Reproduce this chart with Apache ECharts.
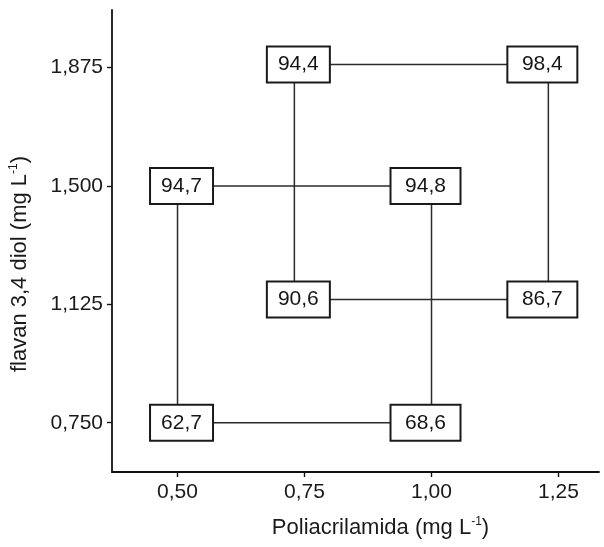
<!DOCTYPE html>
<html>
<head>
<meta charset="utf-8">
<style>
  html, body { margin: 0; padding: 0; background: #ffffff; }
  #chart { width: 604px; height: 547px; }
</style>
<script src="https://cdn.jsdelivr.net/npm/echarts@6/dist/echarts.min.js"></script>
</head>
<body>
<div id="chart"></div>
<script>
// ---- data ----
const xTickValues = [0.5, 0.75, 1.0, 1.25];
const yTickValues = [0.75, 1.125, 1.5, 1.875];
const pointX = [0.5, 1.0, 0.5, 1.0, 0.73, 1.23, 0.73, 1.23];
const pointY = [0.75, 0.75, 1.5, 1.5, 1.14, 1.14, 1.885, 1.885];
const pointValues = [62.7, 68.6, 94.7, 94.8, 90.6, 86.7, 94.4, 98.4];
// pairs of point indices joined by a line
const connections = [[0, 1], [2, 3], [4, 5], [6, 7], [0, 2], [1, 3], [4, 6], [5, 7]];
const xTitle = 'Poliacrilamida (mg L{sup|-1})';
const yTitle = 'flavan 3,4 diol (mg L{sup|-1})';

// ---- chart ----
const FONT = '"Liberation Sans", Arial, sans-serif';
const fmt = (v, d) => v.toFixed(d).replace('.', ',');

const lineSeries = connections.map(([a, b]) => ({
  type: 'line',
  data: [[pointX[a], pointY[a]], [pointX[b], pointY[b]]],
  symbol: 'none',
  lineStyle: { color: '#2b2b2b', width: 1.5 },
  z: 2,
  silent: true
}));

const boxSeries = {
  type: 'scatter',
  z: 5,
  symbol: 'circle',
  symbolSize: 1,
  itemStyle: { color: 'rgba(0,0,0,0)', opacity: 1 },
  data: pointX.map((x, i) => ({
    value: [x, pointY[i], pointValues[i]],
    label: {
      width: x > 0.9 ? 48 : 41,
      offset: x > 0.9 ? [-6, 0] : [4, 0]
    }
  })),
  label: {
    show: true,
    position: 'inside',
    align: 'center',
    verticalAlign: 'middle',
    formatter: p => fmt(p.value[2], 1),
    fontFamily: FONT,
    fontSize: 21,
    lineHeight: 22,
    color: '#151515',
    opacity: 1,
    backgroundColor: '#ffffff',
    borderColor: '#1a1a1a',
    borderWidth: 2,
    padding: [6, 10, 6, 10]
  },
  emphasis: { disabled: true }
};

const chart = echarts.init(document.getElementById('chart'), null, { renderer: 'canvas' });
chart.setOption({
  backgroundColor: '#ffffff',
  animation: false,
  grid: { left: 112, right: 5, top: 10, bottom: 75, containLabel: false },
  xAxis: {
    type: 'value',
    min: 0.371,
    max: 1.3297,
    splitLine: { show: false },
    axisLine: { show: true, onZero: false, lineStyle: { color: '#111', width: 1.8 } },
    axisTick: { show: true, customValues: xTickValues, length: 5, lineStyle: { color: '#111', width: 1.4 } },
    axisLabel: {
      customValues: xTickValues,
      formatter: v => fmt(v, 2),
      fontFamily: FONT, fontSize: 21, color: '#1a1a1a', margin: 10
    },
    name: xTitle,
    nameLocation: 'middle',
    nameGap: 44,
    nameTextStyle: {
      fontFamily: FONT, fontSize: 22, color: '#1a1a1a',
      padding: [0, 0, 0, 50],
      rich: { sup: { fontFamily: FONT, fontSize: 12, color: '#1a1a1a', padding: [0, 0, 12, 0] } }
    }
  },
  yAxis: {
    type: 'value',
    min: 0.5938,
    max: 2.0577,
    splitLine: { show: false },
    axisLine: { show: true, onZero: false, lineStyle: { color: '#111', width: 1.8 } },
    axisTick: { show: true, customValues: yTickValues, length: 5, lineStyle: { color: '#111', width: 1.4 } },
    axisLabel: {
      customValues: yTickValues,
      formatter: v => fmt(v, 3),
      fontFamily: FONT, fontSize: 21, color: '#1a1a1a', margin: 9
    },
    name: yTitle,
    nameLocation: 'middle',
    nameGap: 80,
    nameRotate: 90,
    nameTextStyle: {
      fontFamily: FONT, fontSize: 22, color: '#1a1a1a',
      padding: [0, 46, 0, 0],
      rich: { sup: { fontFamily: FONT, fontSize: 12, color: '#1a1a1a', padding: [0, 0, 12, 0] } }
    }
  },
  series: [...lineSeries, boxSeries]
});
</script>
</body>
</html>
